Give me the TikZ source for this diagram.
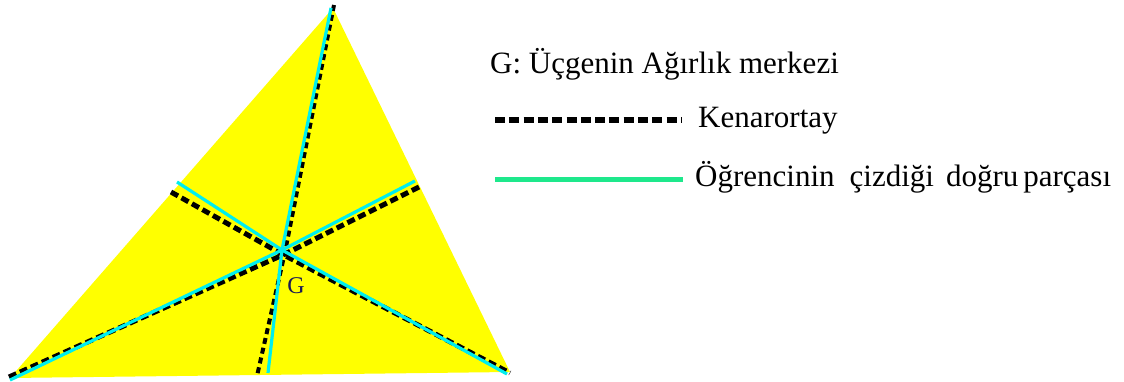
\documentclass[tikz,border=0pt]{standalone}
\usepackage{fontspec}
\setmainfont{Liberation Serif}
\definecolor{tri}{RGB}{255,255,0}
\definecolor{aqua}{RGB}{0,238,238}
\definecolor{lgreen}{RGB}{30,232,140}
\definecolor{glabel}{RGB}{25,25,85}
\begin{document}
\begin{tikzpicture}[x=1pt,y=-1pt,
  median/.style={line width=5pt, dash pattern=on 8pt off 4pt, black},
  student/.style={line width=3.2pt, draw=aqua, line join=round},
  legtext/.style={anchor=base west, inner sep=0pt, font=\fontsize{31}{36}\selectfont}]
\useasboundingbox (0,0) rectangle (1124,382);
% triangle
\coordinate (A) at (333,8);
\coordinate (B) at (10,378);
\coordinate (C) at (510,372);
\fill[tri] (A) -- (B) -- (C) -- cycle;
% medians (dashed)
\coordinate (dA1) at (334,5);
\coordinate (dA2) at (285,252);
\coordinate (dA3) at (257,376);
\coordinate (dB1) at (9,377);
\coordinate (dB2) at (285,254);
\coordinate (dB3) at (419,187);
\coordinate (dC1) at (171,192);
\coordinate (dC2) at (280,253);
\coordinate (dC3) at (510,373);
\draw[median, line width=4pt, dash pattern=on 6pt off 4pt] (dA1) -- (dA2) -- (dA3);
\draw[median] (dB1) -- (dB2) -- (dB3);
\draw[median] (dC1) -- (dC2) -- (dC3);
% student's segments (cyan)
\coordinate (G) at (282,250);
\coordinate (sA1) at (331,8);
\coordinate (sA3) at (268,373);
\coordinate (sB1) at (10,380);
\coordinate (sB3) at (415,181);
\coordinate (sC1) at (177,182);
\coordinate (sC3) at (507,374);
\draw[student] (sA1) -- (G) -- (sA3);
\draw[student] (sB1) -- (G) -- (sB3);
\draw[student] (sC1) -- (G) -- (sC3);
\node[font=\fontsize{24}{28}\selectfont, text=glabel, inner sep=0pt, anchor=base] (Glab) at (296,293) {G};
% legend
\node[legtext] (l1) at (490,73.5) {G: Üçgenin Ağırlık merkezi};
\coordinate (k1) at (495,120);
\coordinate (k2) at (681,120);
\draw[line width=6.5pt, dash pattern=on 10pt off 4.3pt, black] (k1) -- (k2);
\node[legtext] (l2) at (698,128) {Kenarortay};
\coordinate (s1) at (495,180);
\coordinate (s2) at (683,180);
\draw[line width=5pt, draw=lgreen] (s1) -- (s2);
\node[legtext] (l3) at (695,187) {Öğrencinin\hspace{15pt}çizdiği\hspace{12pt}doğru\hspace{5pt}parçası};
\end{tikzpicture}
\end{document}
